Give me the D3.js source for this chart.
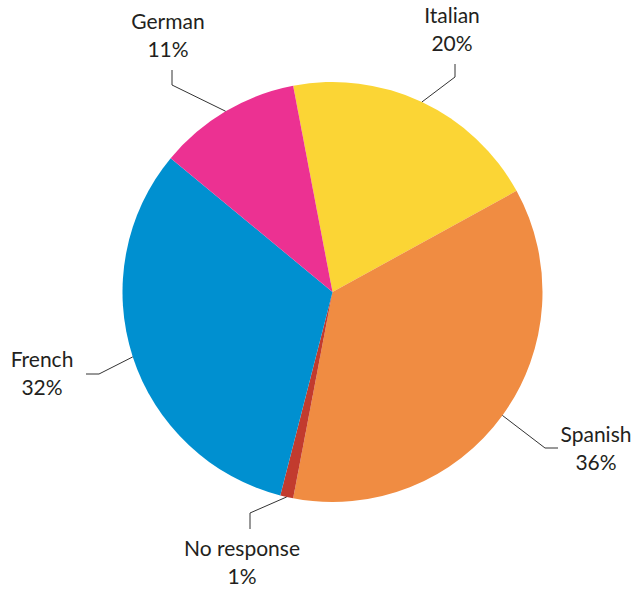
<!DOCTYPE html>
<html>
<head>
<meta charset="utf-8">
<script src="https://cdn.jsdelivr.net/npm/d3@7"></script>
<style>
  html, body { margin: 0; padding: 0; background: #fff; }
  svg { display: block; }
  text { font-family: Lato, "Open Sans", sans-serif; font-size: 21px; fill: #231f20; }
</style>
</head>
<body>
<svg id="chart" width="633" height="591"></svg>
<script>
// Languages and their share of responses (%)
const languages = ["Italian", "Spanish", "No response", "French", "German"];
const shares = [20, 36, 1, 32, 11];
const colors = ["#fbd535", "#f08c42", "#c23b2e", "#0090d0", "#ec3192"];

// Label layout: elbow of the leader line, end of the leader, and text anchor
const labelLayout = {
  "Italian":     { elbow: [455, 77],  end: [455, 64],  text: [452, 23] },
  "Spanish":     { elbow: [545, 448], end: [558, 448], text: [596, 442] },
  "No response": { elbow: [250, 513], end: [250, 529], text: [242, 556] },
  "French":      { elbow: [99, 374],  end: [86, 374],  text: [42, 367] },
  "German":      { elbow: [172, 85],  end: [172, 70],  text: [168, 29] }
};

const cx = 332.5, cy = 292, radius = 210;
const startAngle = -10.8 * Math.PI / 180;

const svg = d3.select("#chart");
const g = svg.append("g").attr("transform", `translate(${cx},${cy})`);

const data = languages.map((name, i) => ({ name, value: shares[i], color: colors[i] }));

const pie = d3.pie()
  .value(d => d.value)
  .sort(null)
  .startAngle(startAngle)
  .endAngle(startAngle + 2 * Math.PI);

const arc = d3.arc().innerRadius(0).outerRadius(radius);
const arcs = pie(data);

g.selectAll("path.slice")
  .data(arcs)
  .join("path")
  .attr("class", "slice")
  .attr("d", arc)
  .attr("fill", d => d.data.color);

// Leader lines start on the rim at each slice's middle angle
const rimPoint = d => {
  const a = (d.startAngle + d.endAngle) / 2;
  return [cx + radius * Math.sin(a), cy - radius * Math.cos(a)];
};

svg.selectAll("polyline.leader")
  .data(arcs)
  .join("polyline")
  .attr("class", "leader")
  .attr("fill", "none")
  .attr("stroke", "#333")
  .attr("stroke-width", 1)
  .attr("points", d => {
    const L = labelLayout[d.data.name];
    return [rimPoint(d), L.elbow, L.end].map(p => p.join(",")).join(" ");
  });

const labels = svg.selectAll("text.label")
  .data(arcs)
  .join("text")
  .attr("class", "label")
  .attr("text-anchor", "middle")
  .attr("x", d => labelLayout[d.data.name].text[0])
  .attr("y", d => labelLayout[d.data.name].text[1]);

labels.append("tspan")
  .attr("x", d => labelLayout[d.data.name].text[0])
  .text(d => d.data.name);

labels.append("tspan")
  .attr("x", d => labelLayout[d.data.name].text[0])
  .attr("dy", 28)
  .text(d => d.data.value + "%");
</script>
</body>
</html>
